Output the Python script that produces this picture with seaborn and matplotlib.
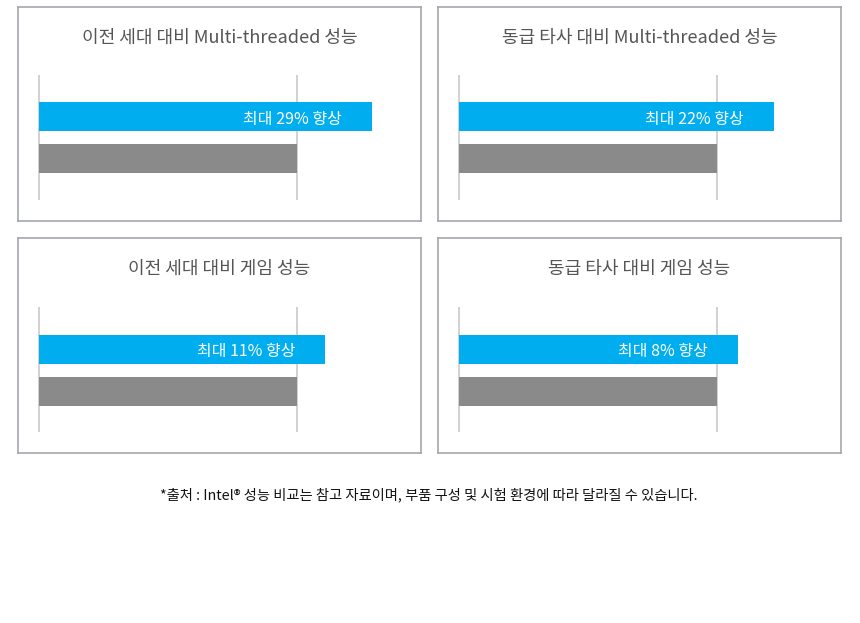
import matplotlib
matplotlib.use("Agg")
import matplotlib.pyplot as plt
import seaborn as sns
import pandas as pd

# 데이터
titles = ["이전 세대 대비 Multi-threaded 성능", "동급 타사 대비 Multi-threaded 성능",
          "이전 세대 대비 게임 성능", "동급 타사 대비 게임 성능"]
new_scores = [129, 122, 111, 108]
base_scores = [100, 100, 100, 100]
bar_names = ["신제품", "비교 대상"]
footnote = "*출처 : Intel® 성능 비교는 참고 자료이며, 부품 구성 및 시험 환경에 따라 달라질 수 있습니다."

BLUE = "#00aeef"
GRAY = "#8a8a8a"
LINE = "#c9c9c9"
FRAME = "#a3a7ab"

sns.set_style("white")
plt.rcParams['font.family'] = ['Noto Sans CJK KR', 'DejaVu Sans']

W, H = 860, 623
fig = plt.figure(figsize=(W / 100, H / 100), dpi=100)

# 패널 위치 (px): 박스 left, top, width, height
boxes = [(18, 7, 403, 214), (438, 7, 403, 214), (18, 238, 403, 215), (438, 238, 403, 215)]
px_per_unit = 2.58   # 100% = 258px
step = 42            # 막대 간격(px)

for i, (bx, by, bw, bh) in enumerate(boxes):
    ax = fig.add_axes([bx / W, 1 - (by + bh) / H, bw / W, bh / H])
    zero_x = bx + 21
    if by < 100:
        blue_c, title_y, line_top, line_bot = 116.5, 38, 75, 200
    else:
        blue_c, title_y, line_top, line_bot = 349.2, 269, 307, 432

    df = pd.DataFrame({"name": bar_names, "score": [new_scores[i], base_scores[i]]})
    sns.barplot(data=df, x="score", y="name", hue="name", palette=[BLUE, GRAY],
                orient="h", width=29 / step, legend=False, ax=ax, saturation=1,
                linewidth=0)

    ax.set_xlim(-(zero_x - bx) / px_per_unit, (bx + bw - zero_x) / px_per_unit)
    y_top = -(blue_c - by) / step
    y_bot = 1 + (by + bh - (blue_c + step)) / step
    ax.set_ylim(y_bot, y_top)

    def to_y(p):
        return (p - blue_c) / step

    ax.vlines([0, base_scores[i]], to_y(line_bot), to_y(line_top), color=LINE, lw=1.2, zorder=0)
    ax.text(0.5, to_y(title_y), titles[i], transform=ax.get_yaxis_transform(),
            ha="center", va="center", fontsize=13, color="#555555")
    ax.text(new_scores[i] - 30 / px_per_unit, 0.06, f"최대 {new_scores[i] - base_scores[i]}% 향상",
            ha="right", va="center", fontsize=11.5, color="white")

    ax.set_xticks([])
    ax.set_yticks([])
    ax.set_xlabel("")
    ax.set_ylabel("")
    for s in ax.spines.values():
        s.set_visible(True)
        s.set_color(FRAME)
        s.set_linewidth(1.2)

fig.text(429 / W, 1 - 495 / H, footnote, ha="center", va="center", fontsize=10.3,
         fontweight="medium", color="#111111")

fig.savefig("out.png", dpi=100, facecolor="white")
